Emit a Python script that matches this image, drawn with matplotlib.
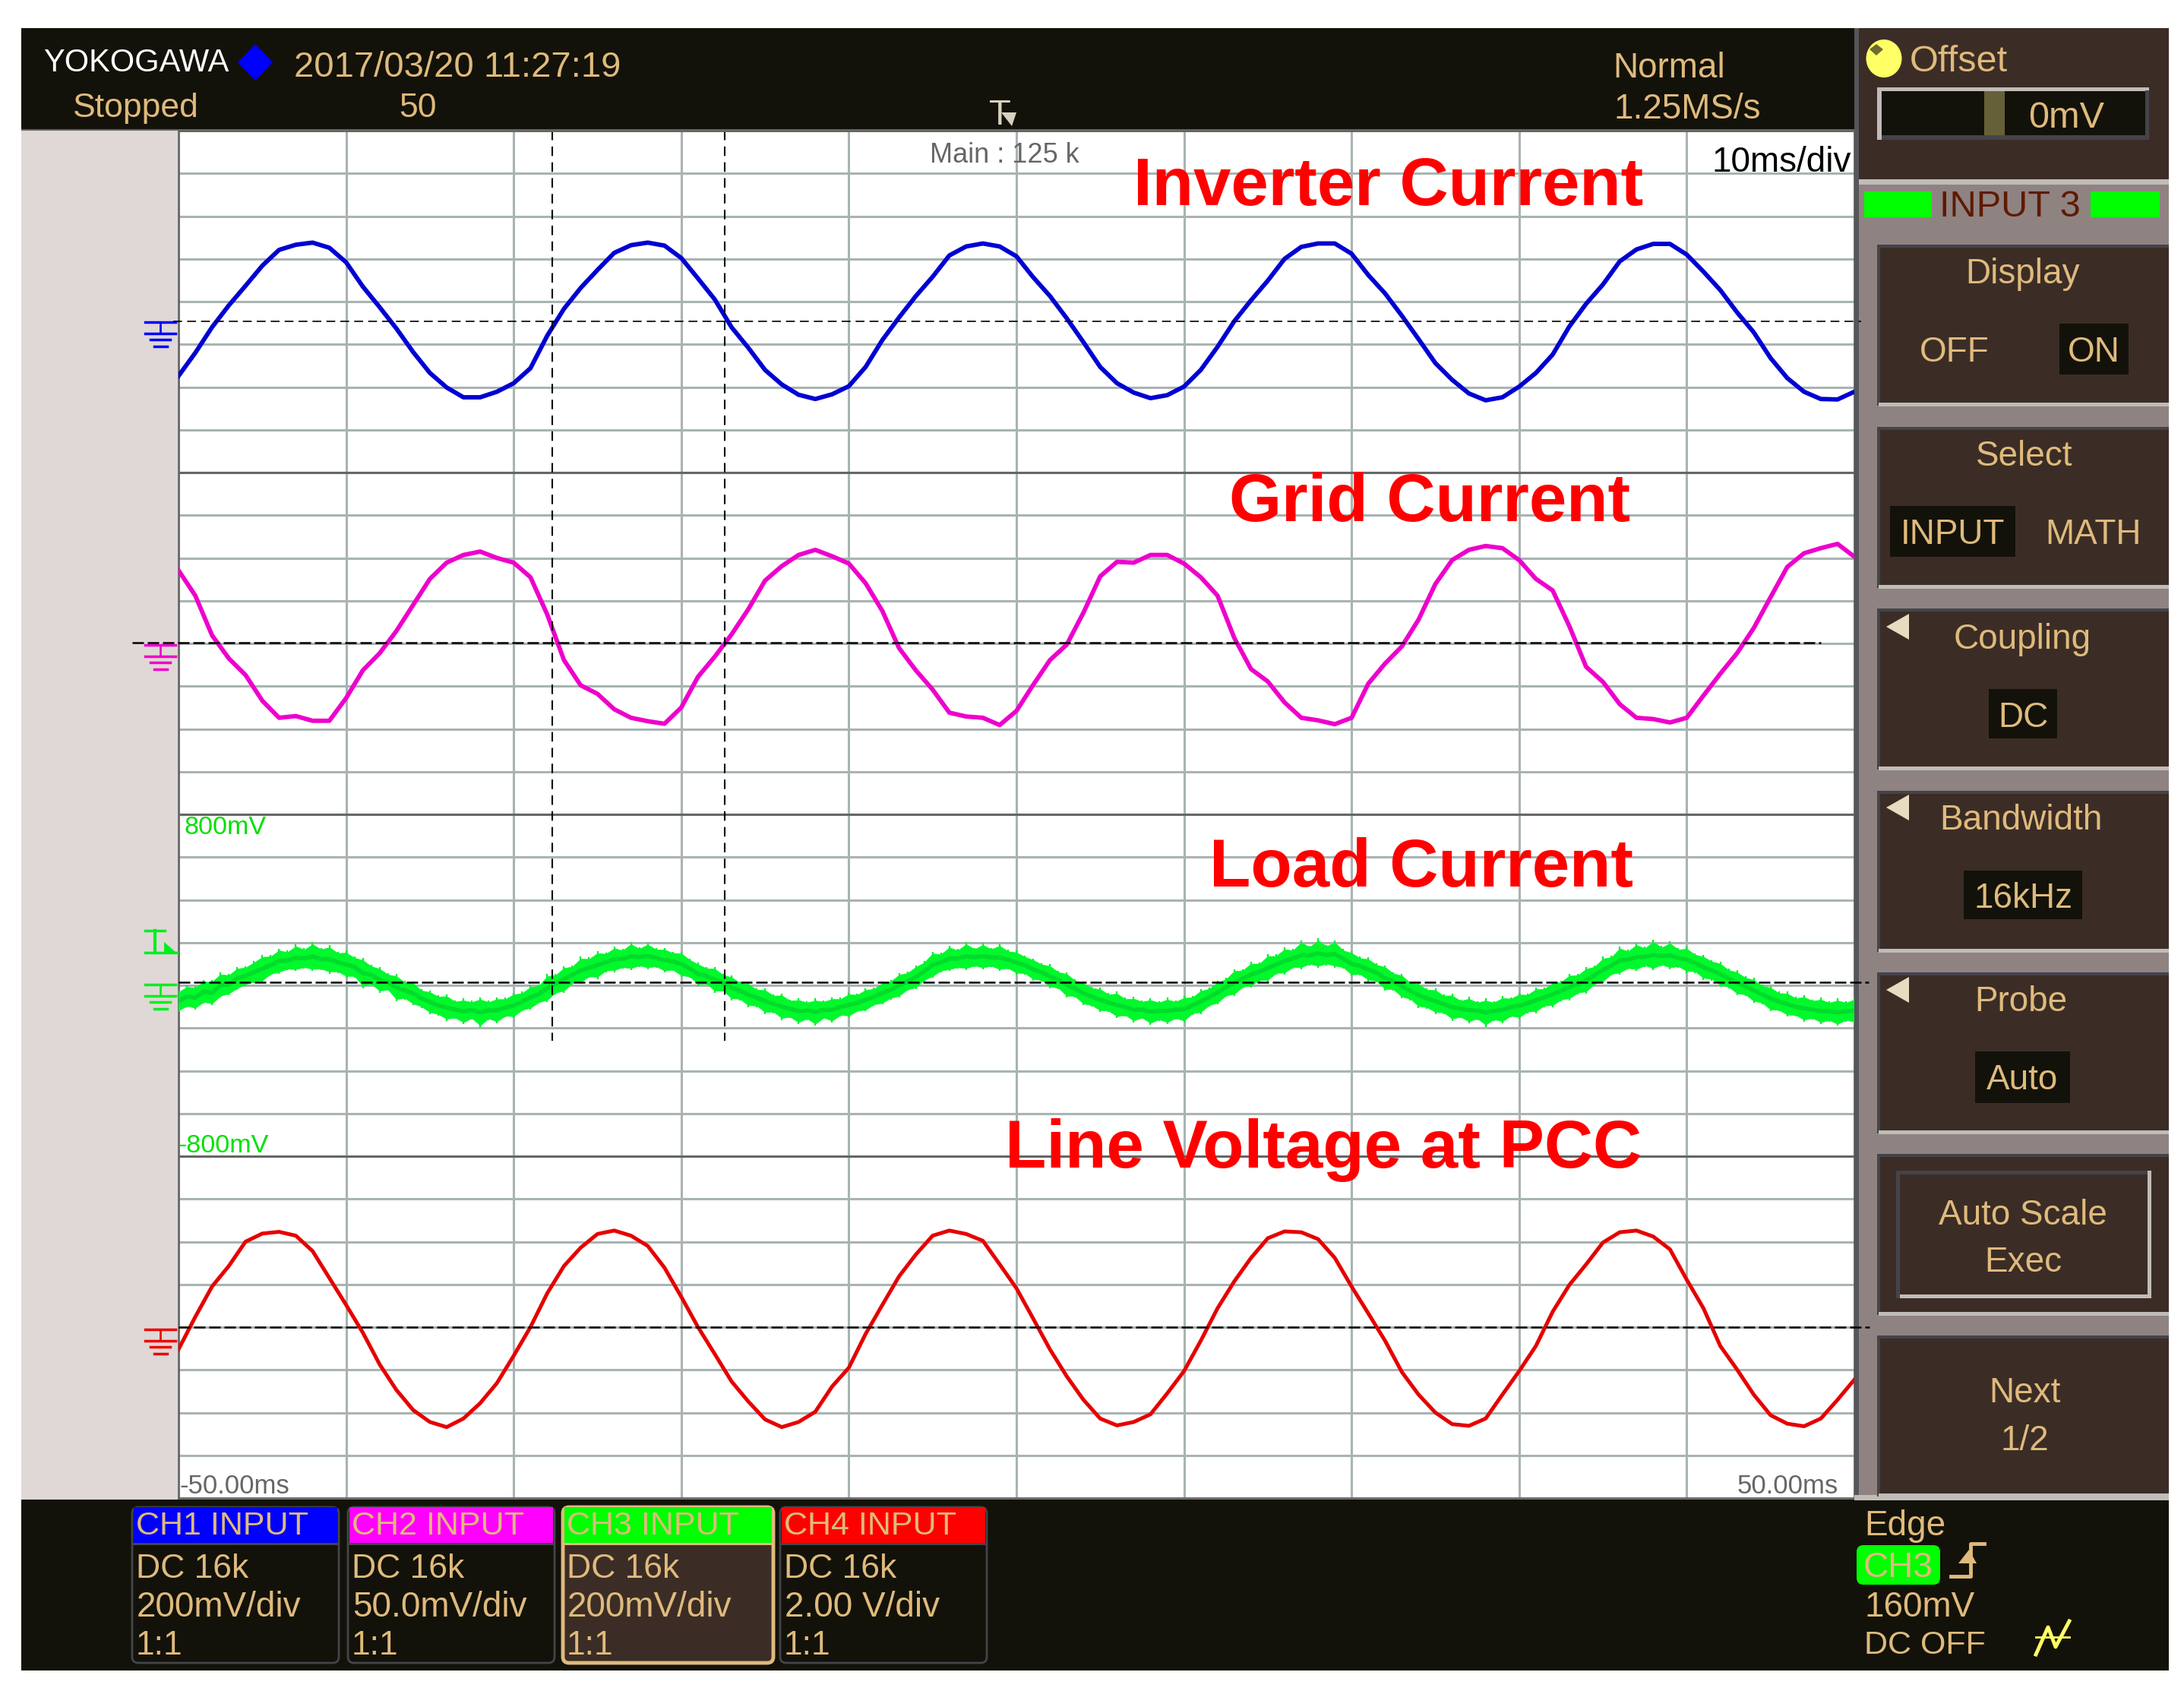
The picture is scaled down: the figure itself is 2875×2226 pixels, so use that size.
#!/usr/bin/env python
# coding: utf-8

import numpy as np
import matplotlib
matplotlib.use('Agg')
import matplotlib.pyplot as plt
from matplotlib.patches import Rectangle, Polygon, Ellipse, FancyBboxPatch

# traces: divisions above each channel's ground, one value per ms
time_ms = list(range(-50, 51))

ch1_div = [-1.27, -0.73, -0.13, 0.38, 0.84, 1.31, 1.68, 1.80, 1.85, 1.73,
           1.39, 0.82, 0.34, -0.16, -0.71, -1.20, -1.54, -1.77, -1.77, -1.64,
           -1.44, -1.09, -0.33, 0.30, 0.79, 1.21, 1.61, 1.79, 1.85, 1.78,
           1.49, 1.01, 0.52, -0.13, -0.61, -1.13, -1.47, -1.71, -1.81, -1.70,
           -1.51, -1.06, -0.43, 0.10, 0.60, 1.05, 1.55, 1.76, 1.83, 1.76,
           1.53, 1.04, 0.60, 0.08, -0.48, -1.06, -1.44, -1.66, -1.79, -1.72,
           -1.52, -1.13, -0.59, 0.01, 0.50, 0.96, 1.47, 1.75, 1.83, 1.83,
           1.59, 1.09, 0.66, 0.14, -0.41, -0.97, -1.36, -1.68, -1.84, -1.77,
           -1.52, -1.20, -0.77, -0.11, 0.42, 0.87, 1.41, 1.69, 1.82, 1.82,
           1.57, 1.17, 0.74, 0.22, -0.25, -0.85, -1.32, -1.64, -1.81, -1.82,
           -1.64]

ch2_div = [1.71, 1.12, 0.19, -0.35, -0.74, -1.34, -1.74, -1.70, -1.81, -1.81,
           -1.28, -0.63, -0.23, 0.29, 0.90, 1.51, 1.89, 2.07, 2.15, 2.00,
           1.89, 1.55, 0.68, -0.39, -0.98, -1.18, -1.54, -1.74, -1.82, -1.88,
           -1.50, -0.78, -0.31, 0.21, 0.80, 1.47, 1.81, 2.07, 2.19, 2.04,
           1.87, 1.41, 0.76, -0.11, -0.63, -1.08, -1.62, -1.71, -1.74, -1.91,
           -1.58, -0.97, -0.39, -0.03, 0.72, 1.57, 1.91, 1.89, 2.07, 2.07,
           1.87, 1.55, 1.12, 0.13, -0.60, -0.89, -1.38, -1.74, -1.80, -1.89,
           -1.74, -0.94, -0.47, -0.07, 0.56, 1.39, 1.95, 2.19, 2.28, 2.23,
           1.95, 1.51, 1.24, 0.40, -0.55, -0.90, -1.42, -1.74, -1.77, -1.85,
           -1.74, -1.22, -0.71, -0.23, 0.36, 1.08, 1.79, 2.11, 2.23, 2.33,
           2.03]

ch4_div = [-0.52, 0.24, 0.95, 1.43, 2.00, 2.19, 2.23, 2.14, 1.78, 1.15,
           0.52, -0.13, -0.87, -1.47, -1.94, -2.22, -2.34, -2.14, -1.78, -1.31,
           -0.67, 0.00, 0.79, 1.43, 1.86, 2.18, 2.26, 2.14, 1.90, 1.39,
           0.71, 0.00, -0.63, -1.27, -1.74, -2.16, -2.34, -2.22, -1.98, -1.39,
           -0.95, -0.16, 0.52, 1.19, 1.70, 2.14, 2.26, 2.18, 2.02, 1.47,
           0.91, 0.20, -0.52, -1.15, -1.70, -2.14, -2.30, -2.22, -2.04, -1.55,
           -1.03, -0.32, 0.44, 1.07, 1.62, 2.08, 2.24, 2.22, 2.06, 1.62,
           0.95, 0.32, -0.32, -1.05, -1.58, -2.00, -2.27, -2.31, -2.14, -1.58,
           -1.03, -0.44, 0.36, 0.99, 1.47, 1.98, 2.22, 2.26, 2.12, 1.82,
           1.11, 0.44, -0.44, -0.99, -1.58, -2.06, -2.26, -2.32, -2.14, -1.70,
           -1.23]

# CH3 is noisy, so keep top and bottom of the band, one pair per 0.5 ms
ch3_top = [-0.17, -0.05, -0.06, 0.08, 0.07, 0.25, 0.22, 0.38, 0.40, 0.52,
           0.66, 0.66, 0.81, 0.76, 0.91, 0.82, 0.96, 0.83, 0.89, 0.74,
           0.76, 0.63, 0.59, 0.43, 0.38, 0.23, 0.21, 0.05, 0.04, -0.14,
           -0.17, -0.28, -0.26, -0.40, -0.36, -0.41, -0.33, -0.41, -0.33, -0.34,
           -0.22, -0.20, -0.05, -0.03, 0.21, 0.22, 0.40, 0.42, 0.62, 0.60,
           0.75, 0.72, 0.86, 0.80, 0.96, 0.84, 0.95, 0.82, 0.83, 0.74,
           0.74, 0.58, 0.48, 0.38, 0.38, 0.22, 0.18, 0.04, 0.02, -0.12,
           -0.12, -0.26, -0.24, -0.38, -0.35, -0.42, -0.36, -0.40, -0.33, -0.34,
           -0.22, -0.24, -0.12, -0.10, 0.04, 0.07, 0.24, 0.27, 0.42, 0.52,
           0.74, 0.71, 0.88, 0.80, 0.96, 0.83, 0.94, 0.83, 0.92, 0.78,
           0.76, 0.65, 0.58, 0.47, 0.44, 0.29, 0.26, 0.09, 0.04, -0.08,
           -0.10, -0.23, -0.20, -0.34, -0.32, -0.40, -0.35, -0.42, -0.34, -0.40,
           -0.30, -0.30, -0.14, -0.10, 0.06, 0.12, 0.33, 0.33, 0.50, 0.49,
           0.68, 0.67, 0.84, 0.80, 1.00, 0.88, 1.05, 0.90, 1.00, 0.80,
           0.75, 0.62, 0.60, 0.46, 0.42, 0.26, 0.22, 0.04, 0.02, -0.12,
           -0.12, -0.26, -0.24, -0.38, -0.32, -0.42, -0.36, -0.42, -0.30, -0.33,
           -0.22, -0.24, -0.10, -0.10, 0.04, 0.06, 0.22, 0.22, 0.38, 0.42,
           0.62, 0.64, 0.86, 0.78, 0.94, 0.85, 1.02, 0.87, 0.98, 0.82,
           0.85, 0.70, 0.66, 0.54, 0.50, 0.34, 0.30, 0.16, 0.12, -0.03,
           -0.06, -0.20, -0.20, -0.32, -0.28, -0.38, -0.34, -0.42, -0.36, -0.42,
           -0.34]

ch3_bottom = [-0.68, -0.57, -0.62, -0.48, -0.52, -0.34, -0.28, -0.16, -0.06, 0.00,
              0.02, 0.18, 0.22, 0.30, 0.28, 0.34, 0.28, 0.30, 0.22, 0.24,
              0.12, 0.13, -0.12, -0.05, -0.22, -0.18, -0.42, -0.38, -0.52, -0.58,
              -0.72, -0.76, -0.88, -0.84, -0.96, -0.85, -1.04, -0.86, -0.94, -0.80,
              -0.82, -0.66, -0.62, -0.48, -0.44, -0.26, -0.22, -0.03, -0.02, 0.12,
              0.10, 0.26, 0.26, 0.34, 0.30, 0.38, 0.32, 0.36, 0.25, 0.28,
              0.14, 0.12, -0.06, -0.04, -0.22, -0.20, -0.40, -0.40, -0.56, -0.56,
              -0.72, -0.70, -0.86, -0.82, -0.96, -0.86, -1.00, -0.84, -0.92, -0.78,
              -0.80, -0.68, -0.66, -0.53, -0.50, -0.38, -0.34, -0.18, -0.14, 0.04,
              0.12, 0.26, 0.28, 0.34, 0.30, 0.38, 0.32, 0.37, 0.28, 0.32,
              0.20, 0.20, 0.06, 0.04, -0.12, -0.14, -0.34, -0.34, -0.52, -0.55,
              -0.68, -0.68, -0.82, -0.78, -0.92, -0.84, -0.98, -0.88, -0.96, -0.85,
              -0.92, -0.74, -0.72, -0.55, -0.50, -0.32, -0.30, -0.12, -0.10, 0.04,
              0.03, 0.20, 0.20, 0.34, 0.32, 0.42, 0.35, 0.42, 0.36, 0.34,
              0.16, 0.18, 0.04, 0.02, -0.18, -0.18, -0.36, -0.40, -0.58, -0.60,
              -0.72, -0.72, -0.88, -0.82, -0.94, -0.86, -1.02, -0.88, -0.94, -0.80,
              -0.84, -0.70, -0.70, -0.56, -0.56, -0.42, -0.40, -0.26, -0.24, -0.05,
              0.00, 0.18, 0.20, 0.32, 0.28, 0.38, 0.30, 0.40, 0.32, 0.36,
              0.24, 0.24, 0.08, 0.06, -0.08, -0.12, -0.28, -0.30, -0.46, -0.49,
              -0.66, -0.66, -0.78, -0.78, -0.90, -0.85, -0.96, -0.90, -1.00, -0.90,
              -0.94]

# ground level of each channel, in divisions from the top of the screen
ground_div = {'CH1': 4.47, 'CH2': 12.0, 'CH3': 19.95, 'CH4': 28.0}
cursor_ms = [-27.7, -17.4]

channel_names = ['CH1 INPUT', 'CH2 INPUT', 'CH3 INPUT', 'CH4 INPUT']
channel_scales = ['200mV/div', '50.0mV/div', '200mV/div', '2.00 V/div']
channel_colors = ['#0000ff', '#ff00ff', '#00ff00', '#ff0000']

TAN = '#dfba7c'
BLACK = '#13120a'
BROWN = '#3b2d26'
GREY = '#8f8382'
LIGHT = '#c0bcb8'
DARK = '#44444a'

W, H = 2875, 2226
fig = plt.figure(figsize=(W / 100, H / 100), dpi=100, facecolor='white')
plt.rcParams['font.family'] = ['Liberation Sans', 'DejaVu Sans']

# screen area
left, right, top, bottom = 235, 2441, 172, 1972
ax = fig.add_axes([left / W, 1 - bottom / H, (right - left) / W, (bottom - top) / H])
ax.set_xlim(-50, 50)
ax.set_ylim(32, 0)
ax.set_xticks(np.arange(-40, 50, 10))
ax.set_yticks(np.arange(1, 32))
ax.tick_params(length=0, labelbottom=False, labelleft=False)
ax.grid(True, color='#a8b4b2', lw=2.2)
ax.set_axisbelow(True)
for d in [8, 16, 24]:
    ax.axhline(d, color='#666666', lw=2.2, zorder=1)
for s in ax.spines.values():
    s.set_color('#666666')
    s.set_linewidth(2)

# CH3: thin spikes to the full band, solid body over the inner part
t3 = np.linspace(-50, 50, len(ch3_top))
top3 = ground_div['CH3'] - np.array(ch3_top)
bot3 = ground_div['CH3'] - np.array(ch3_bottom)
mid3 = (top3 + bot3) / 2
ax.vlines(t3, top3, bot3, color='#00f02a', lw=1.6, zorder=3)
ax.fill_between(t3, mid3 + 0.85 * (top3 - mid3), mid3 + 0.85 * (bot3 - mid3),
                color='#00f82c', lw=0.5, zorder=3)
ax.plot(t3, mid3, color='#00dc2a', lw=4, zorder=3)

ax.plot(time_ms, ground_div['CH1'] - np.array(ch1_div), color='#0000d2', lw=4.2, zorder=3)
ax.plot(time_ms, ground_div['CH2'] - np.array(ch2_div), color='#ee00cc', lw=4.2, zorder=3)
ax.plot(time_ms, ground_div['CH4'] - np.array(ch4_div), color='#e60000', lw=3.6, zorder=3)
for c in cursor_ms:
    ax.plot([c, c], [0, 21.3], color='black', lw=1.5, dashes=(6, 4), zorder=4)

# everything around the screen is laid out in pixels on a second axes
ui = fig.add_axes([0, 0, 1, 1])
ui.set_xlim(0, W)
ui.set_ylim(H, 0)
ui.axis('off')
ui.patch.set_alpha(0)


def box(x0, y0, x1, y1, color, z=1):
    ui.add_patch(Rectangle((x0, y0), x1 - x0, y1 - y0, fc=color, ec='none', zorder=z))


def label(x, y, s, size=33, color=TAN, ha='center', z=6, **kw):
    # va='center' sits a bit high for these mostly capital strings
    ui.text(x, y + size * 0.11, s, fontsize=size, color=color, ha=ha, va='center', zorder=z, **kw)


def ground_mark(y, color):
    ui.plot([191, 231], [y, y], color=color, lw=2.5)
    ui.plot([211, 211], [y, y + 15], color=color, lw=2)
    ui.plot([191, 231], [y + 15, y + 15], color=color, lw=2.5)
    ui.plot([198, 224], [y + 23, y + 23], color=color, lw=2.5)
    ui.plot([203, 220], [y + 32, y + 32], color=color, lw=2.5)


box(28, 37, 2443, 170, BLACK)
box(28, 170, 2443, 174, '#666666')
box(28, 172, 234, 1974, '#e0d8d6')
box(2441, 37, 2855, 1975, GREY)
box(2441, 37, 2447, 1975, '#55555a', z=2)
box(2447, 37, 2855, 236, BROWN)
box(2447, 236, 2855, 243, LIGHT)
box(28, 1974, 2855, 2199, BLACK)
box(2441, 1968, 2855, 1975, LIGHT, z=2)

# top bar
label(57, 80, 'YOKOGAWA', size=30, color='white', ha='left')
ui.add_patch(Polygon([[336, 58], [359, 82], [336, 106], [313, 82]], fc='#0000ff', ec='none', zorder=5))
label(387, 85, '2017/03/20 11:27:19', size=34, ha='left')
label(96, 139, 'Stopped', size=32, ha='left')
label(550, 139, '50', size=32)
label(2123, 86, 'Normal', size=33, ha='left')
label(2125, 140, '1.25MS/s', size=33, ha='left')
label(1316, 148, 'T', size=34, color='#d8d0c0')
ui.add_patch(Polygon([[1318, 148], [1338, 148], [1332, 166]], fc='#d8d0c0', ec='none', zorder=6))

# texts on the screen
label(1322, 202, 'Main : 125 k', size=26, color='#666666')
label(2345, 210, '10ms/div', size=33, color='black')
label(236, 1954, '-50.00ms', size=25, color='#666666', ha='left')
label(2420, 1954, '50.00ms', size=25, color='#666666', ha='right')
label(242, 1087, '800mV', size=24.5, color='#00e000', ha='left')
label(234, 1506, '-800mV', size=24.5, color='#00e000', ha='left')
label(1828, 240, 'Inverter Current', size=64, color='#ff0000', fontweight='bold')
label(1882, 656, 'Grid Current', size=64, color='#ff0000', fontweight='bold')
label(1871, 1137, 'Load Current', size=64, color='#ff0000', fontweight='bold')
label(1742, 1507, 'Line Voltage at PCC', size=64, color='#ff0000', fontweight='bold')

# ground lines and marks
ui.plot([228, 2450], [423, 423], color='black', lw=1.2, dashes=(7, 4), zorder=5)
ui.plot([174, 2397], [846, 846], color='black', lw=1.8, dashes=(6, 2), zorder=5)
ui.plot([235, 2460], [1293, 1293], color='black', lw=1.8, dashes=(6, 2), zorder=5)
ui.plot([235, 2461], [1747, 1747], color='black', lw=1.8, dashes=(6, 2), zorder=5)
ground_mark(424, '#0000ff')
ground_mark(849, '#ee00cc')
ground_mark(1296, '#00ee20')
ground_mark(1750, '#ee0000')
ui.plot([191, 217], [1225, 1225], color='#00ee20', lw=2.5)
ui.plot([204, 204], [1225, 1254], color='#00ee20', lw=3)
ui.plot([191, 233], [1254, 1254], color='#00ee20', lw=2.5)
ui.add_patch(Polygon([[216, 1240], [232, 1254], [216, 1254]], fc='#00ee20', ec='none'))

# offset panel
ui.add_patch(Ellipse((2480, 77), 47, 50, fc='#ffff66', ec='none', zorder=3))
ui.add_patch(Polygon([[2470, 58], [2479, 65], [2470, 73], [2461, 65]], fc='#6e6a30', ec='none', zorder=4))
label(2578, 78, 'Offset', size=35)
box(2471, 115, 2829, 184, LIGHT, z=2)
box(2477, 178, 2829, 184, DARK, z=3)
box(2824, 119, 2829, 184, DARK, z=3)
box(2477, 120, 2824, 178, BLACK, z=4)
box(2612, 120, 2639, 178, '#666038', z=5)
label(2720, 152, '0mV', size=35)
box(2454, 252, 2543, 286, '#00ff00', z=3)
box(2752, 252, 2843, 286, '#00ff00', z=3)
label(2646, 269, 'INPUT 3', size=35, color='#5e1a00')

# soft keys
key_tops = [322, 562, 801, 1041, 1280, 1519, 1758]
for y in key_tops:
    box(2471, y, 2855, y + 212, BROWN, z=2)
    box(2471, y, 2855, y + 4, DARK, z=3)
    box(2471, y, 2475, y + 212, DARK, z=3)
    box(2473, y + 208, 2855, y + 213, LIGHT, z=3)

label(2663, 357, 'Display')
label(2573, 460, 'OFF')
box(2711, 426, 2802, 493, BLACK, z=4)
label(2756, 460, 'ON')
label(2665, 597, 'Select')
box(2488, 666, 2653, 733, BLACK, z=4)
label(2570, 700, 'INPUT')
label(2755, 700, 'MATH')
label(2662, 838, 'Coupling')
box(2618, 907, 2708, 972, BLACK, z=4)
label(2663, 941, 'DC')
label(2660, 1076, 'Bandwidth')
box(2585, 1146, 2741, 1210, BLACK, z=4)
label(2663, 1179, '16kHz')
label(2660, 1315, 'Probe')
box(2600, 1384, 2725, 1452, BLACK, z=4)
label(2662, 1418, 'Auto')
for y in [825, 1063, 1303]:
    ui.add_patch(Polygon([[2483, y], [2513, y - 17], [2513, y + 17]], fc='#e8dcc0', ec='none', zorder=5))
box(2496, 1541, 2832, 1709, LIGHT, z=3)
box(2496, 1541, 2827, 1546, DARK, z=4)
box(2496, 1541, 2501, 1709, DARK, z=4)
box(2501, 1546, 2827, 1704, BROWN, z=4)
label(2663, 1596, 'Auto Scale')
label(2663, 1658, 'Exec')
label(2665, 1830, 'Next')
label(2665, 1893, '1/2')

# channel boxes at the bottom
box_x = [(174, 446), (458, 730), (741, 1018), (1027, 1299)]
for i, (x0, x1) in enumerate(box_x):
    selected = i == 2
    ec = TAN if selected else DARK
    ui.add_patch(FancyBboxPatch((x0, 1984), x1 - x0, 205, boxstyle='round,pad=0,rounding_size=8',
                                fc=BROWN if selected else BLACK, ec=ec, lw=3.5 if selected else 2, zorder=2))
    box(x0 + 2, 1984, x1 - 2, 2031, channel_colors[i], z=3)
    box(x0, 2031, x1, 2034, ec, z=3)
    label(x0 + 5, 2006, channel_names[i], size=31, ha='left')
    label(x0 + 5, 2062, 'DC 16k', size=32, ha='left')
    label(x0 + 6, 2112, channel_scales[i], size=33, ha='left')
    label(x0 + 5, 2163, '1:1', size=32, ha='left')

# trigger block
label(2454, 2005, 'Edge', size=33, ha='left')
ui.add_patch(FancyBboxPatch((2444, 2034), 110, 52, boxstyle='round,pad=0,rounding_size=9',
                            fc='#00ff00', ec='none', zorder=3))
label(2499, 2060, 'CH3', size=33)
ui.plot([2568, 2594, 2594, 2612], [2075, 2075, 2032, 2032], color=TAN, lw=3.5, zorder=5)
ui.add_patch(Polygon([[2578, 2058], [2592, 2040], [2602, 2058]], fc=TAN, ec='none', zorder=5))
label(2454, 2112, '160mV', size=33, ha='left')
label(2454, 2163, 'DC OFF', size=31, ha='left')
ui.plot([2680, 2696, 2706, 2724], [2178, 2142, 2168, 2134], color='#ffff66', lw=3.5, zorder=5)
ui.plot([2680, 2724], [2155, 2155], color='#ffff66', lw=2, zorder=5)

plt.savefig('out.png', dpi=100)
